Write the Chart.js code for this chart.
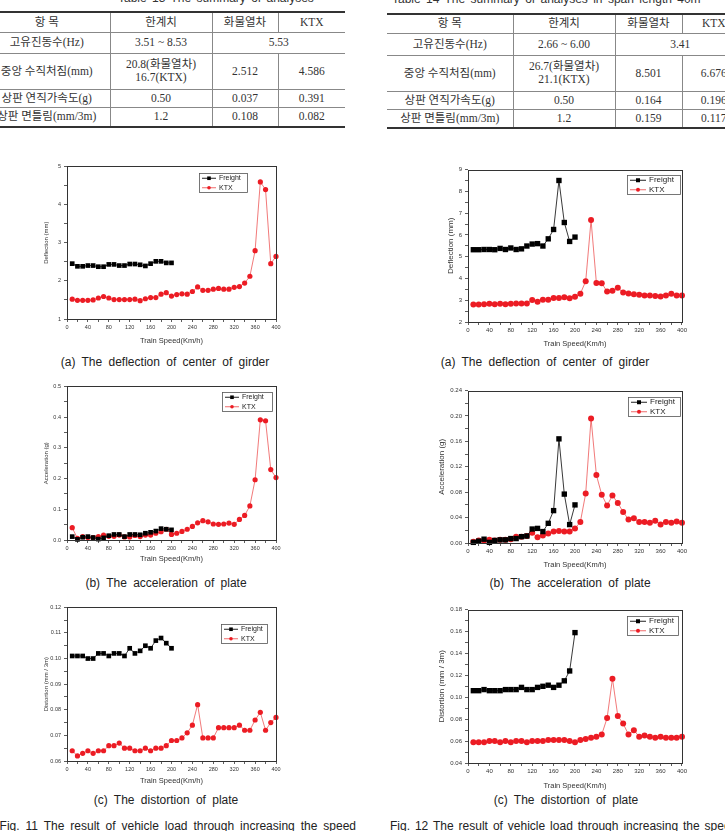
<!DOCTYPE html>
<html>
<head>
<meta charset="utf-8">
<script src="https://cdn.jsdelivr.net/npm/chart.js@4.4.0/dist/chart.umd.min.js"></script>
<style>
html, body { margin: 0; padding: 0; background: #fff; }
body { width: 725px; height: 831px; position: relative; overflow: hidden; font-family: "Liberation Sans", Arial, sans-serif; color: #222; }
table.sum { position: absolute; border-collapse: collapse; table-layout: fixed; font-family: "Liberation Serif", "Noto Sans CJK KR", serif; font-size: 11.5px; color: #333; }
table.sum td { border: 1px solid #888; text-align: center; padding: 0; line-height: 13px; white-space: nowrap; overflow: hidden; }
table.sum tr:first-child td { border-top: 2px solid #333; }
table.sum tr:last-child td { border-bottom: 2px solid #333; }
table.sum td:first-child { border-left: none; }
table.sum td:last-child { border-right: none; }
.cap { position: absolute; font-size: 12px; white-space: nowrap; word-spacing: 3px; color: #222; transform: translate(-50%, -50%); }
.fig { position: absolute; font-size: 12px; white-space: nowrap; word-spacing: 2.6px; color: #222; }
.tcap { position: absolute; font-size: 12px; white-space: nowrap; word-spacing: 2px; color: #333; }
canvas { position: absolute; }
</style>
</head>
<body>

<div class="tcap" style="left:118px; top:-9px;">Table 13 The summary of analyses</div>
<div class="tcap" style="left:392px; top:-8px;">Table 14 The summary of analyses in span length 40m</div>

<table class="sum" style="left:-16px; top:11px; width:361px;">
  <colgroup><col style="width:126px"><col style="width:102px"><col style="width:66px"><col style="width:67px"></colgroup>
  <tr style="height:20px"><td>항 목</td><td>한계치</td><td>화물열차</td><td>KTX</td></tr>
  <tr style="height:21px"><td>고유진동수(Hz)</td><td>3.51 ~ 8.53</td><td colspan="2">5.53</td></tr>
  <tr style="height:36px"><td>중앙 수직처짐(mm)</td><td>20.8(화물열차)<br>16.7(KTX)</td><td>2.512</td><td>4.586</td></tr>
  <tr style="height:18px"><td>상판 연직가속도(g)</td><td>0.50</td><td>0.037</td><td>0.391</td></tr>
  <tr style="height:20px"><td>상판 면틀림(mm/3m)</td><td>1.2</td><td>0.108</td><td>0.082</td></tr>
</table>

<table class="sum" style="left:387px; top:13px; width:358px;">
  <colgroup><col style="width:126px"><col style="width:102px"><col style="width:67px"><col style="width:63px"></colgroup>
  <tr style="height:19px"><td>항 목</td><td>한계치</td><td>화물열차</td><td>KTX</td></tr>
  <tr style="height:22px"><td>고유진동수(Hz)</td><td>2.66 ~ 6.00</td><td colspan="2">3.41</td></tr>
  <tr style="height:36px"><td>중앙 수직처짐(mm)</td><td>26.7(화물열차)<br>21.1(KTX)</td><td>8.501</td><td>6.676</td></tr>
  <tr style="height:18px"><td>상판 연직가속도(g)</td><td>0.50</td><td>0.164</td><td>0.196</td></tr>
  <tr style="height:19px"><td>상판 면틀림(mm/3m)</td><td>1.2</td><td>0.159</td><td>0.117</td></tr>
</table>

<canvas id="defl11"></canvas>
<canvas id="defl12"></canvas>
<canvas id="acc11"></canvas>
<canvas id="acc12"></canvas>
<canvas id="dist11"></canvas>
<canvas id="dist12"></canvas>

<div class="cap" style="left:165px; top:362px;">(a) The deflection of center of girder</div>
<div class="cap" style="left:545px; top:362px;">(a) The deflection of center of girder</div>
<div class="cap" style="left:166px; top:583px;">(b) The acceleration of plate</div>
<div class="cap" style="left:570px; top:583px;">(b) The acceleration of plate</div>
<div class="cap" style="left:166px; top:800px;">(c) The distortion of plate</div>
<div class="cap" style="left:566px; top:800px;">(c) The distortion of plate</div>

<div class="fig" style="right:369px; top:819px;">Fig. 11 The result of vehicle load through increasing the speed</div>
<div class="fig" style="left:390px; top:819px; word-spacing:1.6px;">Fig. 12 The result of vehicle load through increasing the speed</div>

<script>
// train speeds (km/h)
const speedKtx = [10, 20, 30, 40, 50, 60, 70, 80, 90, 100, 110, 120, 130, 140, 150, 160, 170, 180, 190, 200,
    210, 220, 230, 240, 250, 260, 270, 280, 290, 300, 310, 320, 330, 340, 350, 360, 370, 380, 390, 400];
const speedFreight = [10, 20, 30, 40, 50, 60, 70, 80, 90, 100, 110, 120, 130, 140, 150, 160, 170, 180, 190, 200];

// Fig. 11 - deflection (mm)
const deflFreight11 = [2.45, 2.38, 2.38, 2.40, 2.40, 2.37, 2.37, 2.43, 2.43, 2.40, 2.40, 2.44, 2.44, 2.42, 2.39, 2.45, 2.51, 2.51, 2.47, 2.47];
const deflKtx11 = [1.52, 1.49, 1.49, 1.49, 1.50, 1.55, 1.59, 1.55, 1.51, 1.51, 1.51, 1.51, 1.52, 1.48, 1.53, 1.56, 1.56, 1.65, 1.69, 1.60,
    1.64, 1.66, 1.65, 1.72, 1.84, 1.75, 1.75, 1.78, 1.80, 1.78, 1.78, 1.83, 1.85, 1.94, 2.12, 2.79, 4.59, 4.39, 2.45, 2.64];
// Fig. 12 - deflection (mm)
const deflFreight12 = [5.32, 5.32, 5.33, 5.33, 5.32, 5.38, 5.33, 5.40, 5.33, 5.36, 5.49, 5.58, 5.60, 5.49, 5.82, 6.25, 8.50, 6.57, 5.70, 5.90];
const deflKtx12 = [2.80, 2.80, 2.82, 2.84, 2.82, 2.84, 2.82, 2.84, 2.85, 2.85, 2.85, 3.01, 2.93, 3.02, 3.02, 3.10, 3.10, 3.14, 3.09, 3.16,
    3.30, 3.87, 6.68, 3.79, 3.78, 3.40, 3.44, 3.57, 3.35, 3.31, 3.28, 3.25, 3.22, 3.22, 3.19, 3.17, 3.22, 3.30, 3.22, 3.22];

// Fig. 11 - acceleration (g)
const accFreight11 = [0.011, 0.002, 0.009, 0.011, 0.008, 0.003, 0.007, 0.014, 0.018, 0.018, 0.011, 0.018, 0.018, 0.017, 0.022, 0.025, 0.029, 0.037, 0.035, 0.033];
const accKtx11 = [0.040, 0.005, 0.011, 0.008, 0.008, 0.011, 0.016, 0.012, 0.012, 0.016, 0.010, 0.010, 0.015, 0.011, 0.016, 0.016, 0.022, 0.027, 0.035, 0.018,
    0.022, 0.028, 0.035, 0.044, 0.056, 0.063, 0.059, 0.052, 0.051, 0.052, 0.055, 0.051, 0.067, 0.080, 0.111, 0.196, 0.391, 0.388, 0.229, 0.203];
// Fig. 12 - acceleration (g)
const accFreight12 = [0.001, 0.003, 0.006, 0.001, 0.004, 0.005, 0.005, 0.007, 0.007, 0.010, 0.011, 0.022, 0.023, 0.018, 0.031, 0.051, 0.164, 0.077, 0.029, 0.060];
const accKtx12 = [0.002, 0.004, 0.004, 0.005, 0.004, 0.005, 0.005, 0.006, 0.010, 0.010, 0.011, 0.016, 0.009, 0.012, 0.015, 0.018, 0.019, 0.018, 0.018, 0.023,
    0.033, 0.078, 0.196, 0.107, 0.076, 0.059, 0.075, 0.063, 0.049, 0.037, 0.039, 0.033, 0.033, 0.032, 0.035, 0.029, 0.033, 0.032, 0.034, 0.032];

// Fig. 11 - distortion (mm / 3m)
const distFreight11 = [0.101, 0.101, 0.101, 0.100, 0.100, 0.102, 0.102, 0.101, 0.102, 0.102, 0.101, 0.104, 0.102, 0.103, 0.105, 0.104, 0.107, 0.108, 0.106, 0.104];
const distKtx11 = [0.064, 0.062, 0.063, 0.064, 0.063, 0.064, 0.064, 0.066, 0.066, 0.067, 0.065, 0.065, 0.064, 0.064, 0.065, 0.064, 0.065, 0.065, 0.066, 0.068,
    0.068, 0.069, 0.071, 0.074, 0.082, 0.069, 0.069, 0.069, 0.073, 0.073, 0.073, 0.073, 0.074, 0.072, 0.072, 0.076, 0.079, 0.072, 0.075, 0.077];
// Fig. 12 - distortion (mm / 3m)
const distFreight12 = [0.106, 0.106, 0.107, 0.106, 0.106, 0.106, 0.107, 0.107, 0.107, 0.109, 0.107, 0.107, 0.109, 0.110, 0.111, 0.109, 0.111, 0.115, 0.124, 0.159];
const distKtx12 = [0.059, 0.059, 0.059, 0.060, 0.060, 0.059, 0.060, 0.059, 0.060, 0.060, 0.059, 0.060, 0.060, 0.060, 0.061, 0.061, 0.061, 0.061, 0.060, 0.059,
    0.061, 0.062, 0.063, 0.064, 0.066, 0.081, 0.117, 0.083, 0.076, 0.066, 0.070, 0.064, 0.065, 0.064, 0.063, 0.064, 0.063, 0.063, 0.063, 0.064];

const xTickLabels = [0, 40, 80, 120, 160, 200, 240, 280, 320, 360, 400];

const FONT = '"Liberation Sans", Arial, sans-serif';

function pts(xs, ys) {
    return xs.map((x, i) => ({ x: x, y: ys[i] }));
}

// box around the plot area (Origin style)
const frame = {
    id: 'frame',
    afterDraw(chart) {
        const { ctx, chartArea: a } = chart;
        ctx.save();
        ctx.strokeStyle = '#333';
        ctx.lineWidth = 1;
        ctx.strokeRect(Math.round(a.left) + 0.5, Math.round(a.top) + 0.5, Math.round(a.right - a.left), Math.round(a.bottom - a.top));
        ctx.restore();
    }
};

// legend drawn in a box inside the plot, top right
const boxLegend = {
    id: 'boxLegend',
    afterDraw(chart, args, o) {
        const { ctx, chartArea: a } = chart;
        const x0 = Math.round(a.right - o.right - o.w), y0 = Math.round(a.top + o.top);
        ctx.save();
        ctx.fillStyle = '#fff';
        ctx.fillRect(x0, y0, o.w, o.h);
        ctx.strokeStyle = '#555';
        ctx.lineWidth = 0.8;
        ctx.strokeRect(x0 + 0.5, y0 + 0.5, o.w, o.h);
        ctx.font = o.font + 'px ' + FONT;
        ctx.textBaseline = 'middle';
        chart.data.datasets.forEach((ds, i) => {
            const cy = y0 + o.h * (i + 0.5) / 2 + 0.5;
            const lx = x0 + 3;
            ctx.strokeStyle = ds.borderColor;
            ctx.lineWidth = 1;
            ctx.beginPath();
            ctx.moveTo(lx, cy);
            ctx.lineTo(lx + o.line, cy);
            ctx.stroke();
            ctx.fillStyle = ds.pointBackgroundColor;
            const cx = lx + o.line / 2;
            if (ds.pointStyle === 'rect') {
                ctx.fillRect(cx - o.mark, cy - o.mark, o.mark * 2, o.mark * 2);
            } else {
                ctx.beginPath();
                ctx.arc(cx, cy, o.mark, 0, Math.PI * 2);
                ctx.fill();
            }
            ctx.fillStyle = '#222';
            ctx.fillText(ds.label, lx + o.line + 3, cy);
        });
        ctx.restore();
    }
};

function makeChart(c) {
    const canvas = document.getElementById(c.id);
    const padTop = 6, padRight = 7;
    const left = c.plot[0] - c.yW, top = c.plot[1] - padTop;
    const width = c.plot[2] + padRight - left, height = c.plot[3] + c.xH - top;
    canvas.width = width;
    canvas.height = height;
    canvas.style.left = left + 'px';
    canvas.style.top = top + 'px';
    canvas.style.width = width + 'px';
    canvas.style.height = height + 'px';

    const major = c.yStep;
    new Chart(canvas.getContext('2d'), {
        type: 'line',
        data: {
            datasets: [{
                label: 'Freight',
                data: pts(speedFreight, c.freight),
                borderColor: '#222',
                borderWidth: 0.9,
                pointStyle: 'rect',
                pointRadius: c.sq,
                pointBackgroundColor: '#000',
                pointBorderWidth: 0,
                clip: false
            }, {
                label: 'KTX',
                data: pts(speedKtx, c.ktx),
                borderColor: 'rgba(236,70,70,0.8)',
                borderWidth: 0.9,
                pointStyle: 'circle',
                pointRadius: c.dot,
                pointBackgroundColor: '#ec1c24',
                pointBorderWidth: 0,
                clip: false
            }]
        },
        options: {
            responsive: false,
            animation: false,
            devicePixelRatio: 1,
            layout: { padding: { top: padTop, right: padRight, left: 0, bottom: 0 } },
            plugins: {
                legend: { display: false },
                tooltip: { enabled: false },
                boxLegend: c.legend
            },
            scales: {
                x: {
                    type: 'linear',
                    min: 0,
                    max: 400,
                    afterFit: s => { s.height = c.xH; },
                    border: { display: false },
                    grid: { drawOnChartArea: false, tickLength: 3, color: '#333', lineWidth: 0.8 },
                    ticks: {
                        stepSize: 20,
                        autoSkip: false,
                        maxRotation: 0,
                        padding: 2,
                        color: '#333',
                        font: { family: FONT, size: c.tickFont },
                        callback: v => xTickLabels.includes(v) ? v : ''
                    },
                    title: {
                        display: true,
                        text: 'Train Speed(Km/h)',
                        color: '#333',
                        font: { family: FONT, size: 7.5 },
                        padding: { top: 0, bottom: 0 }
                    }
                },
                y: {
                    min: c.yMin,
                    max: c.yMax,
                    afterFit: s => { s.width = c.yW; },
                    border: { display: false },
                    grid: { drawOnChartArea: false, tickLength: 3, color: '#333', lineWidth: 0.8 },
                    ticks: {
                        stepSize: major / 2,
                        autoSkip: false,
                        padding: 3,
                        color: '#333',
                        font: { family: FONT, size: c.tickFont },
                        callback: v => {
                            const r = v / major;
                            return Math.abs(r - Math.round(r)) < 1e-6 ? v.toFixed(c.dec) : '';
                        }
                    },
                    title: {
                        display: true,
                        text: c.yTitle,
                        color: '#333',
                        font: { family: FONT, size: c.titleFont },
                        padding: { top: c.yTitlePad, bottom: 0 }
                    }
                }
            }
        },
        plugins: [frame, boxLegend]
    });
}

const leftStyle = { yW: 27, tickFont: 5.5, titleFont: 6, yTitlePad: 3, sq: 3.3, dot: 2.6 };
const rightStyle = { yW: 33, tickFont: 6, titleFont: 8, yTitlePad: 2, sq: 3.8, dot: 3 };

makeChart(Object.assign({}, leftStyle, {
    id: 'defl11', plot: [67, 166, 276, 319], xH: 26,
    freight: deflFreight11, ktx: deflKtx11,
    yMin: 1, yMax: 5, yStep: 1, dec: 0, yTitle: 'Deflection (mm)',
    legend: { right: 29, top: 7, w: 48, h: 19, font: 7, line: 14, mark: 1.8 }
}));
makeChart(Object.assign({}, rightStyle, {
    id: 'defl12', plot: [468, 169, 682, 322], xH: 26, yW: 24,
    freight: deflFreight12, ktx: deflKtx12,
    yMin: 2, yMax: 9, yStep: 1, dec: 0, yTitle: 'Deflection (mm)',
    legend: { right: 2, top: 5, w: 53, h: 19, font: 8, line: 16, mark: 2 }
}));
makeChart(Object.assign({}, leftStyle, {
    id: 'acc11', plot: [67, 386, 276, 540], xH: 23,
    freight: accFreight11, ktx: accKtx11,
    yMin: 0, yMax: 0.5, yStep: 0.1, dec: 1, yTitle: 'Acceleration (g)',
    legend: { right: 4, top: 6, w: 50, h: 19, font: 7, line: 14, mark: 1.8 }
}));
makeChart(Object.assign({}, rightStyle, {
    id: 'acc12', plot: [468, 390, 682, 543], xH: 26,
    freight: accFreight12, ktx: accKtx12,
    yMin: 0, yMax: 0.24, yStep: 0.04, dec: 2, yTitle: 'Acceleration (g)',
    legend: { right: 2, top: 6, w: 52, h: 19, font: 8, line: 16, mark: 2 }
}));
makeChart(Object.assign({}, leftStyle, {
    id: 'dist11', plot: [67, 607, 276, 761], xH: 24,
    freight: distFreight11, ktx: distKtx11,
    yMin: 0.06, yMax: 0.12, yStep: 0.01, dec: 2, yTitle: 'Distortion (mm / 3m)',
    legend: { right: 9, top: 17, w: 46, h: 19, font: 7, line: 14, mark: 1.8 }
}));
makeChart(Object.assign({}, rightStyle, {
    id: 'dist12', plot: [468, 609, 682, 763], xH: 27,
    freight: distFreight12, ktx: distKtx12,
    yMin: 0.04, yMax: 0.18, yStep: 0.02, dec: 2, yTitle: 'Distortion (mm / 3m)',
    legend: { right: 4, top: 6, w: 51, h: 19, font: 8, line: 16, mark: 2 }
}));
</script>
</body>
</html>
